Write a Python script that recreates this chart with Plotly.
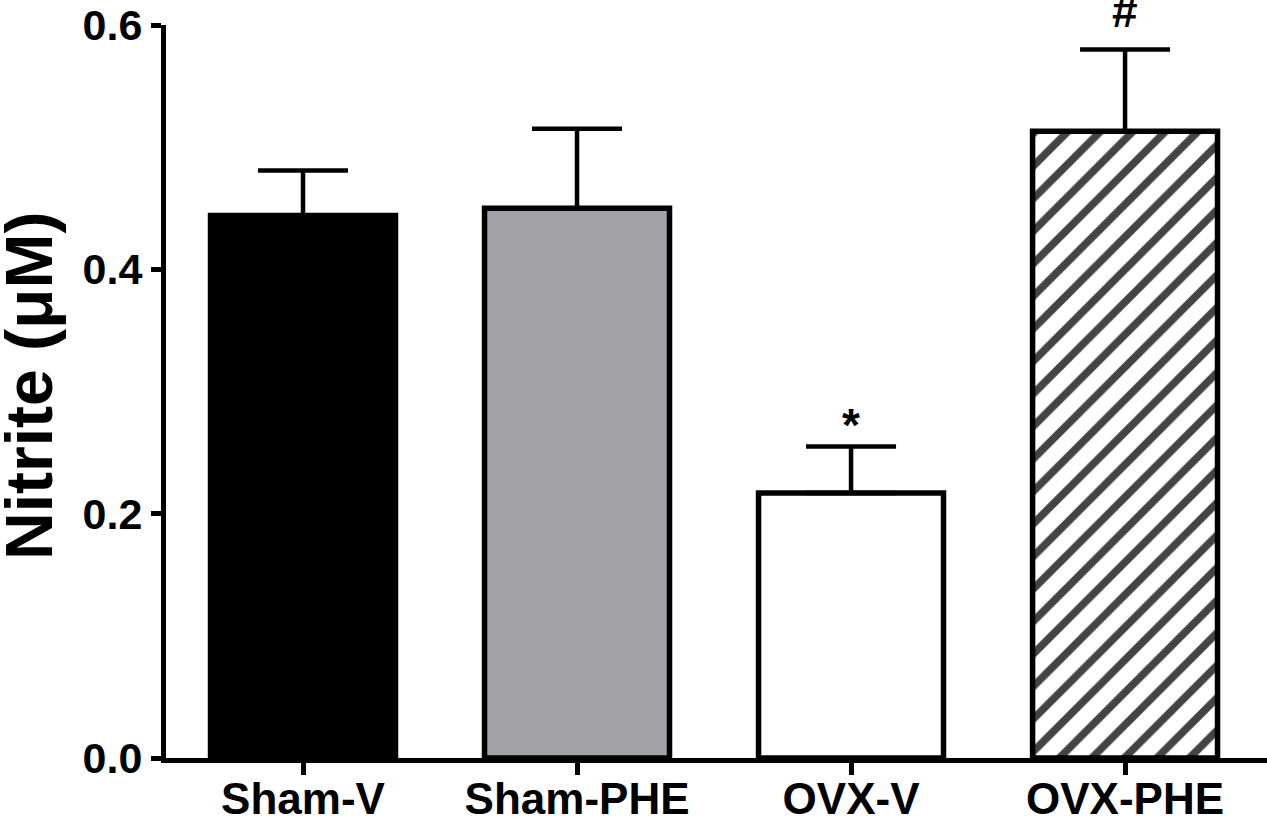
import plotly.graph_objects as go

groups = ["Sham-V", "Sham-PHE", "OVX-V", "OVX-PHE"]
nitrite = [0.444, 0.450, 0.217, 0.513]
sem = [0.037, 0.065, 0.038, 0.067]
marks = ["", "", "*", "#"]

fills = ["black", "#a3a2a7", "white", "white"]
patterns = ["", "", "", "/"]
mark_shift = {"*": -7, "#": 10}

FONT = "Liberation Sans, Arial, sans-serif"

fig = go.Figure()
fig.add_trace(
    go.Bar(
        x=groups,
        y=nitrite,
        width=0.675,
        marker=dict(
            color=fills,
            line=dict(color="black", width=5.5),
            pattern=dict(shape=patterns, fgcolor="black", bgcolor="white",
                         fgopacity=1, size=23, solidity=0.33, fillmode="overlay"),
        ),
        error_y=dict(
            type="data",
            symmetric=False,
            array=sem,
            arrayminus=[0] * len(sem),
            color="black",
            thickness=4.5,
            width=45,
        ),
    )
)

# significance marks above the error caps
for g, v, e, m in zip(groups, nitrite, sem, marks):
    if m:
        fig.add_annotation(
            x=g, y=v + e, text="<b>%s</b>" % m, showarrow=False,
            yanchor="bottom", yshift=mark_shift[m],
            font=dict(family=FONT, size=46, color="black"),
        )

fig.add_annotation(
    xref="paper", yref="paper", x=-0.1245, y=0.5075,
    text="<b>Nitrite (\u03bcM)</b>", textangle=-90, showarrow=False,
    xanchor="center", yanchor="middle",
    font=dict(family=FONT, size=66, color="black"),
)

fig.update_xaxes(
    range=[-0.5, 3.518],
    showline=True, linecolor="black", linewidth=5,
    ticks="outside", ticklen=12, tickwidth=5, tickcolor="black",
    showgrid=False, zeroline=False, automargin=False,
    ticklabelstandoff=-14,
    tickfont=dict(family=FONT, size=44, color="black"),
)
fig.update_xaxes(ticktext=["<b>%s</b>" % g for g in groups], tickvals=groups)
fig.update_yaxes(
    range=[0, 0.6],
    tickvals=[0, 0.2, 0.4, 0.6],
    ticktext=["<b>0.0</b>", "<b>0.2</b>", "<b>0.4</b>", "<b>0.6</b>"],
    showline=True, linecolor="black", linewidth=5,
    ticks="outside", ticklen=10, tickwidth=5, tickcolor="black",
    showgrid=False, zeroline=False, automargin=False,
    tickfont=dict(family=FONT, size=43, color="black"),
)

fig.update_layout(
    width=1267,
    height=819,
    margin=dict(l=166, r=0, t=25, b=61),
    plot_bgcolor="white",
    paper_bgcolor="white",
    showlegend=False,
)

# drop the page's default body margin so the figure sits at the window corner
fig.write_html(
    "out.html",
    config={"displayModeBar": False},
    post_script="document.body.style.margin='0';",
)
